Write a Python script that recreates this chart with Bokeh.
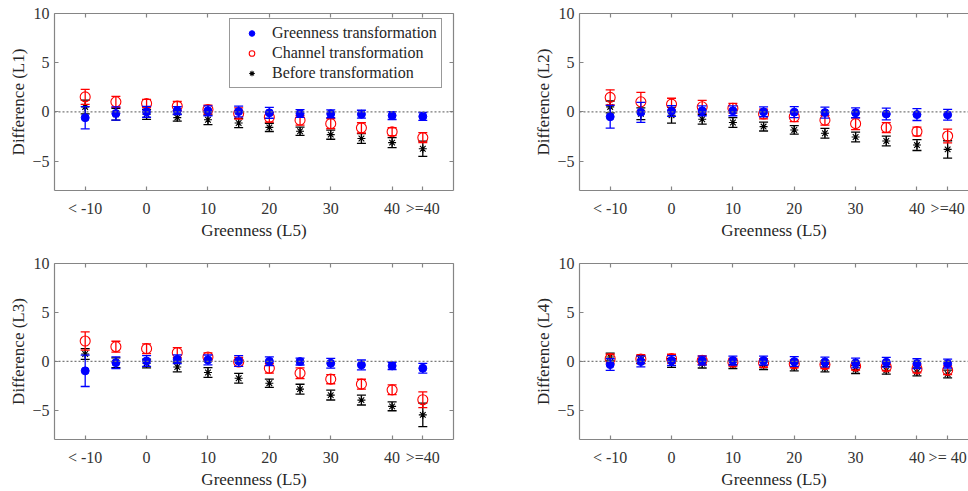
from bokeh.plotting import figure
from bokeh.models import (ColumnDataSource, Span, FixedTicker, LinearAxis,
                          Range1d, Legend, LegendItem)
from bokeh.layouts import column, row
from bokeh.embed import file_html
from bokeh.resources import INLINE

# Greenness bins (L5) and tick labels
x_bins = [-10, -5, 0, 5, 10, 15, 20, 25, 30, 35, 40, 45]
x_ticks = [-10, 0, 10, 20, 30, 40, 45]
x_tick_labels = ["< -10", "0", "10", "20", "30", "40", ">=40"]
x_tick_labels_l4 = ["< -10", "0", "10", "20", "30", "40", ">= 40"]
y_ticks = [-5, 0, 5, 10]

# L1: mean difference and error half-width per bin
l1_green_mean = [-0.60, -0.17, 0.00, 0.13, 0.10, 0.03, -0.10, -0.17, -0.20, -0.24, -0.38, -0.47]
l1_green_err = [1.13, 0.68, 0.55, 0.40, 0.50, 0.55, 0.55, 0.40, 0.40, 0.40, 0.40, 0.40]
l1_channel_mean = [1.52, 1.02, 0.85, 0.58, 0.24, -0.17, -0.55, -0.85, -1.20, -1.63, -2.02, -2.62]
l1_channel_err = [0.76, 0.56, 0.42, 0.47, 0.44, 0.58, 0.50, 0.50, 0.50, 0.52, 0.40, 0.50]
l1_before_mean = [0.50, -0.25, -0.26, -0.59, -0.80, -1.13, -1.58, -1.98, -2.32, -2.71, -3.13, -3.75]
l1_before_err = [0.70, 0.60, 0.50, 0.35, 0.50, 0.47, 0.42, 0.42, 0.47, 0.50, 0.50, 0.78]

# L2
l2_green_mean = [-0.50, -0.05, 0.08, 0.10, 0.10, 0.00, -0.03, -0.08, -0.10, -0.22, -0.28, -0.30]
l2_green_err = [1.15, 1.02, 0.55, 0.50, 0.50, 0.50, 0.55, 0.55, 0.50, 0.60, 0.60, 0.55]
l2_channel_mean = [1.47, 1.02, 0.78, 0.51, 0.37, -0.22, -0.50, -0.85, -1.20, -1.60, -2.00, -2.46]
l2_channel_err = [0.77, 0.95, 0.60, 0.65, 0.50, 0.50, 0.50, 0.50, 0.60, 0.50, 0.45, 0.70]
l2_before_mean = [0.50, -0.20, -0.34, -0.75, -1.09, -1.50, -1.84, -2.18, -2.56, -2.97, -3.38, -3.82]
l2_before_err = [0.60, 0.60, 0.80, 0.50, 0.50, 0.45, 0.43, 0.50, 0.50, 0.50, 0.55, 0.88]

# L3
l3_green_mean = [-0.98, -0.14, 0.03, 0.20, 0.14, 0.03, 0.00, -0.03, -0.20, -0.37, -0.47, -0.71]
l3_green_err = [1.60, 0.60, 0.55, 0.45, 0.50, 0.55, 0.45, 0.35, 0.50, 0.50, 0.37, 0.50]
l3_channel_mean = [2.07, 1.49, 1.29, 0.88, 0.44, -0.07, -0.71, -1.22, -1.83, -2.34, -2.92, -3.93]
l3_channel_err = [0.93, 0.56, 0.50, 0.52, 0.42, 0.46, 0.50, 0.55, 0.47, 0.50, 0.50, 0.80]
l3_before_mean = [0.75, -0.15, -0.22, -0.58, -1.15, -1.73, -2.24, -2.85, -3.46, -3.97, -4.61, -5.48]
l3_before_err = [0.55, 0.50, 0.45, 0.50, 0.50, 0.50, 0.42, 0.50, 0.50, 0.50, 0.45, 1.20]

# L4
l4_green_mean = [-0.34, -0.03, 0.07, 0.07, 0.07, 0.07, -0.03, -0.07, -0.17, -0.10, -0.24, -0.24]
l4_green_err = [0.60, 0.55, 0.50, 0.45, 0.45, 0.45, 0.50, 0.50, 0.50, 0.50, 0.50, 0.45]
l4_channel_mean = [0.27, 0.24, 0.27, 0.10, -0.10, -0.17, -0.27, -0.34, -0.50, -0.58, -0.78, -0.92]
l4_channel_err = [0.45, 0.45, 0.45, 0.45, 0.40, 0.45, 0.40, 0.40, 0.40, 0.40, 0.40, 0.45]
l4_before_mean = [0.44, 0.17, -0.17, -0.24, -0.34, -0.44, -0.58, -0.68, -0.85, -0.92, -1.09, -1.30]
l4_before_err = [0.40, 0.40, 0.45, 0.45, 0.40, 0.40, 0.40, 0.40, 0.40, 0.40, 0.40, 0.40]

FONT = "'Liberation Serif', 'Times New Roman', serif"
FRAME = "#858585"
TEXT = "#262626"
BLUE = "#0000ff"
RED = "#ff0000"
BLACK = "#000000"


def style_axis(ax, ticks, labels=None, title=None):
    ax.ticker = FixedTicker(ticks=ticks)
    ax.axis_line_color = FRAME
    ax.axis_line_width = 1.2
    ax.major_tick_line_color = FRAME
    ax.major_tick_line_width = 1.2
    ax.major_tick_in = 4
    ax.major_tick_out = 0
    ax.minor_tick_line_color = None
    ax.major_label_text_font = FONT
    ax.major_label_text_font_size = "16px"
    ax.major_label_text_color = "#333333"
    if labels is not None:
        ax.major_label_overrides = {t: lab for t, lab in zip(ticks, labels)}
    if title is not None:
        ax.axis_label = title
        ax.axis_label_text_font = FONT
        ax.axis_label_text_font_size = "17px"
        ax.axis_label_text_font_style = "normal"
        ax.axis_label_text_color = TEXT


def blank_axis(ticks):
    ax = LinearAxis()
    style_axis(ax, ticks, labels=[""] * len(ticks))
    ax.major_label_text_font_size = "1px"
    ax.major_label_standoff = 0
    return ax


def add_series(p, mean, err, color, marker, size, fill):
    lower = [m - e for m, e in zip(mean, err)]
    upper = [m + e for m, e in zip(mean, err)]
    src = ColumnDataSource(dict(x=x_bins, y=mean, lo=lower, hi=upper))
    p.segment(x0="x", y0="lo", x1="x", y1="hi", source=src,
              line_color=color, line_width=1.3)
    p.scatter(x="x", y="lo", source=src, marker="dash", size=9,
              line_color=color, line_width=1.3)
    p.scatter(x="x", y="hi", source=src, marker="dash", size=9,
              line_color=color, line_width=1.3)
    if fill:
        r = p.scatter(x="x", y="y", source=src, marker=marker, size=size,
                      line_color=color, fill_color=color)
    else:
        r = p.scatter(x="x", y="y", source=src, marker=marker, size=size,
                      line_color=color, fill_color=None, line_width=1.1)
    return r


def make_panel(name, green, channel, before, left_col, top_row, tick_labels,
               legend=False):
    height = 250 if top_row else 241
    bottom = 60 if top_row else 51
    x_end = 50.0 if left_col else 48.4
    p = figure(width=484, height=height, output_backend="svg",
               toolbar_location=None,
               x_range=Range1d(-15, x_end), y_range=Range1d(-8, 10),
               min_border_left=54 if left_col else 95,
               min_border_right=31 if left_col else 0,
               min_border_top=13, min_border_bottom=bottom)
    p.grid.visible = False
    p.outline_line_color = None
    p.background_fill_color = "white"
    p.border_fill_color = "white"

    style_axis(p.xaxis[0], x_ticks, tick_labels, "Greenness (L5)")
    p.xaxis[0].major_label_standoff = 9
    p.xaxis[0].axis_label_standoff = 1
    style_axis(p.yaxis[0], y_ticks, None, "Difference (%s)" % name)
    p.yaxis[0].major_label_standoff = 5
    p.yaxis[0].axis_label_standoff = 1

    p.add_layout(blank_axis(x_ticks), "above")
    if left_col:
        p.add_layout(blank_axis(y_ticks), "right")

    p.add_layout(Span(location=0, dimension="width", line_color="#7a7a7a",
                      line_width=1.3, line_dash="2 2"))

    r_before = add_series(p, before[0], before[1], BLACK, "asterisk", 8, False)
    r_channel = add_series(p, channel[0], channel[1], RED, "circle", 10, False)
    r_green = add_series(p, green[0], green[1], BLUE, "circle", 8, True)

    if legend:
        lg = Legend(items=[
            LegendItem(label="Greenness transformation", renderers=[r_green]),
            LegendItem(label="Channel transformation", renderers=[r_channel]),
            LegendItem(label="Before transformation", renderers=[r_before]),
        ], location=(175, 102))
        lg.label_text_font = FONT
        lg.label_text_font_size = "16px"
        lg.label_text_color = TEXT
        lg.glyph_width = 35
        lg.glyph_height = 14
        lg.label_height = 20
        lg.label_standoff = 3
        lg.spacing = 0
        lg.padding = 4
        lg.margin = 0
        lg.border_line_color = "#333333"
        lg.border_line_width = 1.2
        lg.background_fill_color = "white"
        lg.background_fill_alpha = 1
        p.add_layout(lg)
    return p


p1 = make_panel("L1", (l1_green_mean, l1_green_err), (l1_channel_mean, l1_channel_err),
                (l1_before_mean, l1_before_err), True, True, x_tick_labels, legend=True)
p2 = make_panel("L2", (l2_green_mean, l2_green_err), (l2_channel_mean, l2_channel_err),
                (l2_before_mean, l2_before_err), False, True, x_tick_labels)
p3 = make_panel("L3", (l3_green_mean, l3_green_err), (l3_channel_mean, l3_channel_err),
                (l3_before_mean, l3_before_err), True, False, x_tick_labels)
p4 = make_panel("L4", (l4_green_mean, l4_green_err), (l4_channel_mean, l4_channel_err),
                (l4_before_mean, l4_before_err), False, False, x_tick_labels_l4)

layout = column(row(p1, p2), row(p3, p4))
open("out.html", "w").write(file_html(layout, INLINE))
